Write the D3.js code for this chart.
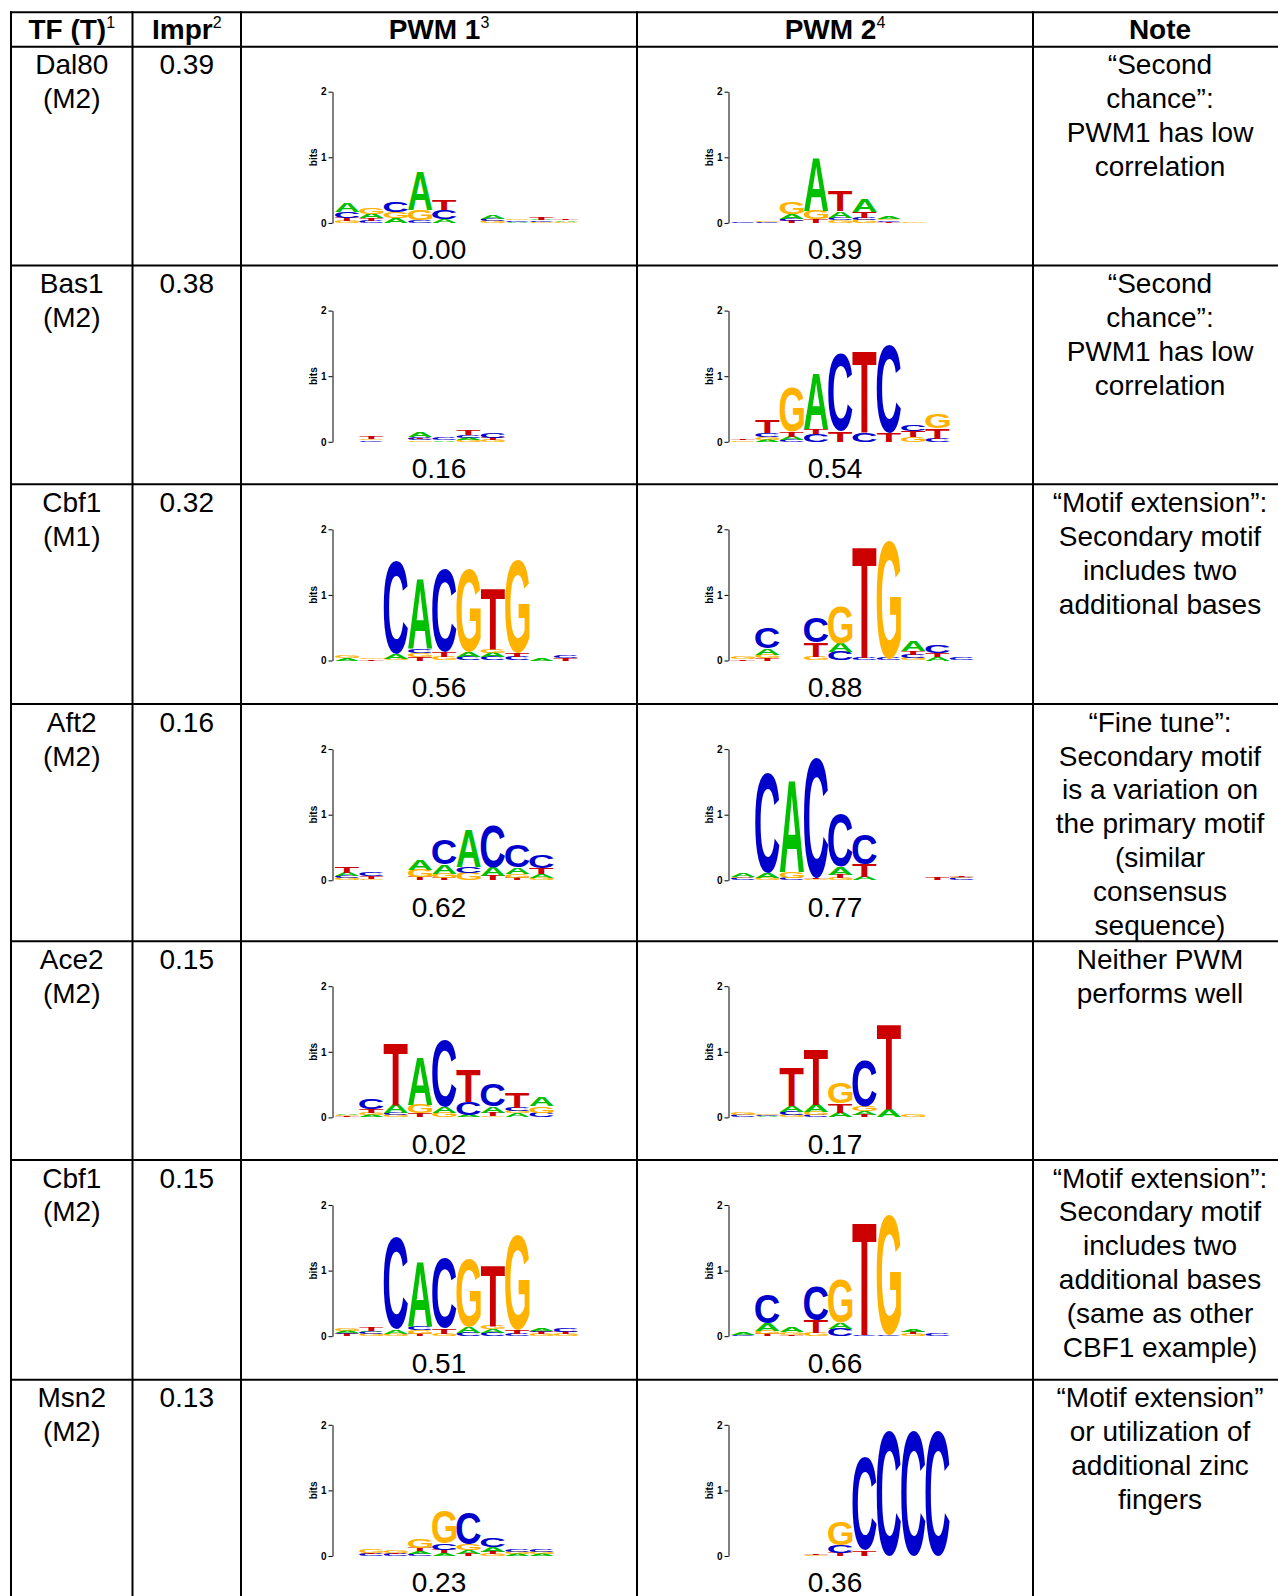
<!DOCTYPE html>
<html><head><meta charset="utf-8">
<script src="https://cdn.jsdelivr.net/npm/d3@7"></script>
<style>body{margin:0;background:#fff;}svg{display:block;}</style>
</head><body>
<svg id="chart" width="1278" height="1596"></svg>
<script>
// ---------------- DATA ----------------
const headerLabels = ["TF (T)", "Impr", "PWM 1", "PWM 2", "Note"];
const headerNotes = ["1", "2", "3", "4", ""];
const tfNames = ["Dal80", "Bas1", "Cbf1", "Aft2", "Ace2", "Cbf1", "Msn2"];
const tfModels = ["(M2)", "(M2)", "(M1)", "(M2)", "(M2)", "(M2)", "(M2)"];
const improvements = ["0.39", "0.38", "0.32", "0.16", "0.15", "0.15", "0.13"];
const pwm1Scores = ["0.00", "0.16", "0.56", "0.62", "0.02", "0.51", "0.23"];
const pwm2Scores = ["0.39", "0.54", "0.88", "0.77", "0.17", "0.66", "0.36"];
const notes = [
  ["\u201CSecond", "chance\u201D:", "PWM1 has low", "correlation"],
  ["\u201CSecond", "chance\u201D:", "PWM1 has low", "correlation"],
  ["\u201CMotif extension\u201D:", "Secondary motif", "includes two", "additional bases"],
  ["\u201CFine tune\u201D:", "Secondary motif", "is a variation on", "the primary motif", "(similar", "consensus", "sequence)"],
  ["Neither PWM", "performs well"],
  ["\u201CMotif extension\u201D:", "Secondary motif", "includes two", "additional bases", "(same as other", "CBF1 example)"],
  ["\u201CMotif extension\u201D", "or utilization of", "additional zinc", "fingers"]
];
const bitTicks = [0, 1, 2];
const bitsLabel = "bits";
// sequence logos: one string per position, letters bottom -> top with their height in bits
const pwm1Logos = [
  ["G.03 T.05 C.09 A.14", "C.03 T.04 A.07 G.09", "A.08 G.09 C.16", "C.04 G.16 A.59", "A.05 C.14 T.16", "", "G.03 C.03 A.06", "A.02 C.02 G.02", "G.02 C.02 A.01 T.03", "G.02 A.02 T.02"],
  ["", "C.02 G.02 T.04", "", "G.02 C.03 T.02 A.08", "A.02 C.03", "G.03 A.03 C.04 T.07", "G.03 T.03 C.07", "", "", ""],
  ["A.03 G.04", "T.02 G.02", "G.03 A.07 C1.43", "T.06 G.05 C.06 A1.06", "G.05 T.08 C1.27", "C.05 A.08 G1.27", "C.05 A.07 G.06 T.93", "C.05 T.06 G1.42", "A.03", "T.03 C.04"],
  ["G.03 C.03 A.05 T.10", "G.02 T.04 C.06", "", "T.05 G.11 A.16", "T.03 G.07 A.14 C.37", "G.11 C.10 A.58", "T.07 A.13 C.64", "T.04 G.06 A.10 C.34", "G.03 A.06 T.09 C.20", ""],
  ["T.02 G.01 A.02", "A.03 G.04 T.06 C.15", "G.03 C.03 A.13 T.95", "T.06 G.13 A.73", "G.07 A.09 C1.02", "A.03 C.20 T.50", "G.02 T.05 A.10 C.33", "A.06 G.04 C.05 T.23", "C.07 G.10 A.14", ""],
  ["T.03 C.02 A.03 G.04", "G.03 C.03 A.02 T.05", "G.04 A.06 C1.41", "T.04 G.06 C.06 A.99", "G.04 T.08 C1.07", "C.05 A.09 G1.05", "C.05 A.06 G.05 T.92", "C.03 T.06 G1.44", "G.03 T.03 C.02 A.04", "G.03 T.04 C.05"],
  ["", "C.03 T.02 G.05", "C.03 T.02 G.04", "C.03 A.04 T.05 G.14", "A.04 T.05 C.10 G.50", "T.03 A.06 G.09 C.49", "G.03 T.03 A.07 C.13", "A.03 G.03 C.04", "A.03 G.03 C.04", ""]
];
const pwm2Logos = [
  ["C.02", "C.02 G.01", "T.03 C.03 A.07 G.18", "T.05 G.13 A.82", "G.04 C.04 A.10 T.31", "G.05 C.03 T.09 A.19", "T.02 C.02 G.02 A.04", "G.02", "", ""],
  ["G.02 T.02", "A.03 G.04 C.06 T.20", "C.03 A.05 T.07 G.68", "C.12 T.07 A.86", "T.16 C1.18", "C.13 T1.25", "T.13 C1.34", "G.07 T.10 C.10", "C.05 T.15 G.22", ""],
  ["T.02 G.04", "T.03 G.06 A.09 C.31", "", "G.06 T.22 C.38", "C.13 A.13 G.56", "C.04 T1.71", "C.03 G1.80", "G.04 C.05 T.05 A.15", "A.06 T.06 C.11", "C.03"],
  ["C.03 G.02 A.05", "G.03 A.08 C1.53", "C.03 G.10 A1.40", "G.02 T.02 C1.82", "G.03 T.05 A.12 C.80", "A.05 T.19 C.46", "", "", "T.03", "C.03 G.02 T.02"],
  ["C.03 G.03", "A.02 C.02 G.02", "G.03 C.05 A.10 T.60", "C.03 G.05 A.11 T.85", "A.07 T.14 G.32", "T.03 A.06 G.08 C.71", "A.12 T1.30", "G.03", "", ""],
  ["C.02 A.03", "T.03 G.05 A.12 C.45", "T.02 G.04 A.08", "G.05 T.19 C.52", "C.11 A.10 G.66", "C.02 T1.73", "C.02 G1.82", "G.03 T.03 A.04", "C.03", ""],
  ["", "", "", "G.02 T.02", "T.05 C.12 G.36", "T.08 C1.42", "C1.90", "C1.90", "C1.90", ""]
];
const letterColors = {A: "#00c000", C: "#0000cc", G: "#ffb300", T: "#cc0000"};

// ---------------- LAYOUT ----------------
const FONT = "'Liberation Sans', Arial, Helvetica, sans-serif";
const colEdges = [11, 132.5, 241, 637, 1033, 1287];
const rowEdges = [12.3, 46.7, 265.6, 484.3, 704.1, 941.2, 1160, 1379.8, 1640];
const bodySize = 28, lineH = 33.9, firstBase = 27.5;
const logoBaseOff = 176.2, bitPx = 65.6, colW = 24.3, axisOff = 91.5;
const scoreBaseOff = 212.5;

const svg = d3.select("#chart");
svg.append("rect").attr("width", 1278).attr("height", 1596).attr("fill", "#fff");

// glyph ink metrics for stretching letters into boxes
const metrics = (() => {
  const ctx = document.createElement("canvas").getContext("2d");
  ctx.font = "bold 100px " + FONT;
  const m = {};
  for (const L of "ACGT") {
    const t = ctx.measureText(L);
    m[L] = {left: t.actualBoundingBoxLeft, right: t.actualBoundingBoxRight,
            asc: t.actualBoundingBoxAscent, desc: t.actualBoundingBoxDescent};
  }
  return m;
})();
const parseCol = s => s.trim() === "" ? [] : s.trim().split(/\s+/).map(t => [t[0], +t.slice(1)]);

const colCenter = i => (colEdges[i] + colEdges[i + 1]) / 2;

// grid lines
const grid = svg.append("g").attr("stroke", "#000").attr("stroke-width", 2);
rowEdges.slice(0, -1).forEach(yv => grid.append("line").attr("x1", colEdges[0] - 1).attr("x2", 1290).attr("y1", yv).attr("y2", yv));
colEdges.slice(0, -1).forEach(xv => grid.append("line").attr("x1", xv).attr("x2", xv).attr("y1", rowEdges[0] - 1).attr("y2", 1600));

// header
headerLabels.forEach((lab, i) => {
  const t = svg.append("text").attr("x", colCenter(i)).attr("y", 38.5)
    .attr("text-anchor", "middle").attr("font-family", FONT).attr("font-size", bodySize).attr("font-weight", "bold").attr("fill", "#000");
  t.append("tspan").text(lab);
  if (headerNotes[i]) t.append("tspan").text(headerNotes[i]).attr("font-size", 16).attr("font-weight", "normal").attr("dy", -11);
});

function lines(x, yTop, arr) {
  const t = svg.append("text").attr("text-anchor", "middle").attr("font-family", FONT)
    .attr("font-size", bodySize).attr("fill", "#000");
  arr.forEach((s, k) => t.append("tspan").attr("x", x).attr("y", yTop + firstBase + k * lineH).text(s));
}

function drawLogo(cols, axisX, baseY) {
  const g = svg.append("g");
  const y = d3.scaleLinear().domain([0, 2]).range([baseY, baseY - 2 * bitPx]);
  const x = d3.scaleBand().domain(d3.range(cols.length)).range([axisX + 2.5, axisX + 2.5 + cols.length * colW]).padding(0);
  const ax = g.append("g").attr("transform", `translate(${axisX},0)`)
    .call(d3.axisLeft(y).tickValues(bitTicks).tickSize(4).tickSizeOuter(0).tickPadding(2).tickFormat(d3.format("d")));
  ax.selectAll("text").attr("font-size", 10).attr("font-weight", "bold").attr("font-family", FONT).attr("fill", "#000");
  ax.selectAll("line,path").attr("stroke", "#000").attr("stroke-width", 1);
  g.append("text").text(bitsLabel).attr("transform", `translate(${axisX - 15.5},${y(1)}) rotate(-90)`)
    .attr("text-anchor", "middle").attr("font-family", FONT).attr("font-size", 10).attr("font-weight", "bold").attr("fill", "#000");
  cols.forEach((col, i) => {
    let cum = 0;
    parseCol(col).forEach(([L, b]) => {
      const y0 = y(cum), y1 = y(cum + b);
      cum += b;
      const h = y0 - y1;
      if (h < 0.2) return;
      const m = metrics[L];
      const sx = x.bandwidth() / (m.left + m.right);
      const sy = h / (m.asc + m.desc);
      g.append("text").text(L).attr("font-family", FONT).attr("font-size", 100).attr("font-weight", "bold")
        .attr("fill", letterColors[L])
        .attr("transform", `translate(${x(i) + m.left * sx},${y1 + m.asc * sy}) scale(${sx},${sy})`);
    });
  });
}

tfNames.forEach((name, r) => {
  const top = rowEdges[r + 1];
  lines(colCenter(0), top, [name, tfModels[r]]);
  lines(colCenter(1), top, [improvements[r]]);
  drawLogo(pwm1Logos[r], colEdges[2] + axisOff, top + logoBaseOff);
  drawLogo(pwm2Logos[r], colEdges[3] + axisOff, top + logoBaseOff);
  svg.append("text").attr("x", colCenter(2)).attr("y", top + scoreBaseOff).attr("text-anchor", "middle")
    .attr("font-family", FONT).attr("font-size", bodySize).attr("fill", "#000").text(pwm1Scores[r]);
  svg.append("text").attr("x", colCenter(3)).attr("y", top + scoreBaseOff).attr("text-anchor", "middle")
    .attr("font-family", FONT).attr("font-size", bodySize).attr("fill", "#000").text(pwm2Scores[r]);
  lines(colCenter(4), top, notes[r]);
});
</script>
</body></html>
